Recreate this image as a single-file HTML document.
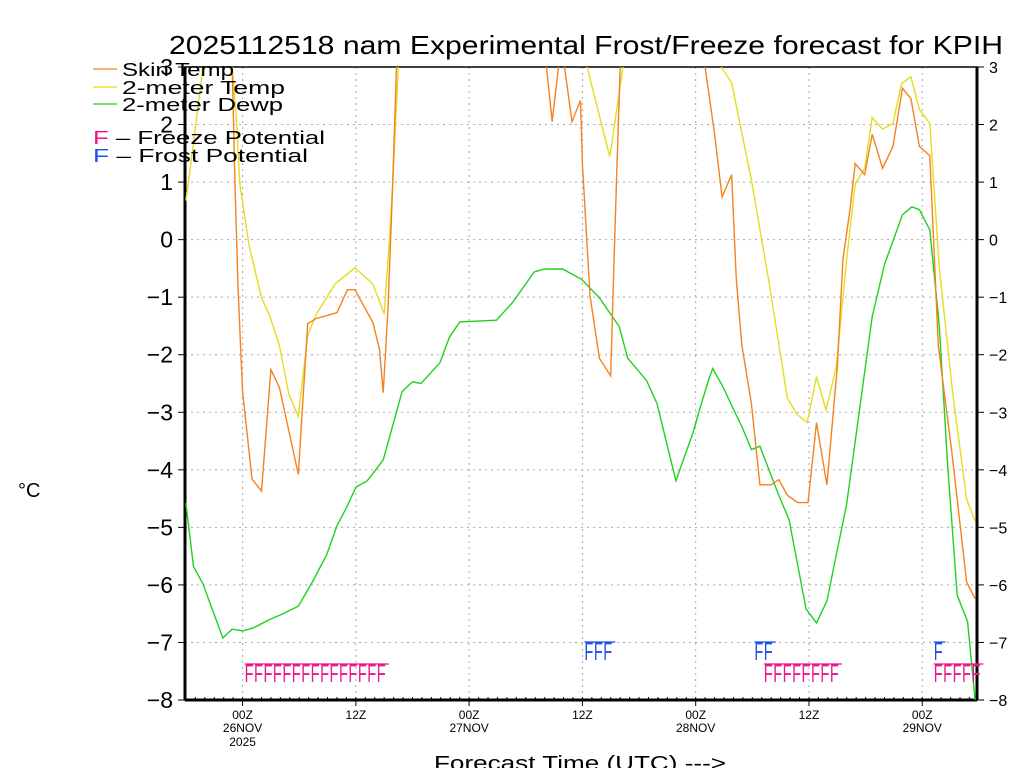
<!DOCTYPE html>
<html><head><meta charset="utf-8"><style>
html,body{margin:0;padding:0;background:#fff;}
svg{display:block;font-family:"Liberation Sans",sans-serif;}
</style></head><body>
<svg id="chart" width="1024" height="768" viewBox="0 0 1024 768" xmlns="http://www.w3.org/2000/svg">
<defs><clipPath id="plotclip"><rect x="185" y="67" width="792" height="633"/></clipPath></defs>
<text x="586" y="54" text-anchor="middle" font-size="26" fill="#000" textLength="834" lengthAdjust="spacingAndGlyphs">2025112518 nam Experimental Frost/Freeze forecast for KPIH</text>
<g id="grid"></g>
<g id="axes"></g>
<g id="series" clip-path="url(#plotclip)"></g>
<g id="markers"></g>
<g font-size="18">
 <line x1="93" y1="69" x2="117" y2="69" stroke="#f5821f" stroke-width="1.3"/>
 <text x="122" y="76" textLength="112" lengthAdjust="spacingAndGlyphs">Skin Temp</text>
 <line x1="93" y1="87" x2="117" y2="87" stroke="#e6dc1e" stroke-width="1.3"/>
 <text x="122" y="94" textLength="163" lengthAdjust="spacingAndGlyphs">2-meter Temp</text>
 <line x1="93" y1="104" x2="117" y2="104" stroke="#1ed21e" stroke-width="1.3"/>
 <text x="122" y="111" textLength="161" lengthAdjust="spacingAndGlyphs">2-meter Dewp</text>
 <text x="93" y="144" textLength="232" lengthAdjust="spacingAndGlyphs"><tspan fill="#f0148c">F</tspan> – Freeze Potential</text>
 <text x="93" y="162" textLength="215" lengthAdjust="spacingAndGlyphs"><tspan fill="#1e50f0">F</tspan> – Frost Potential</text>
</g>
<text x="18" y="497" font-size="20">°C</text>
<text x="580" y="770" text-anchor="middle" font-size="20" textLength="292" lengthAdjust="spacingAndGlyphs">Forecast Time (UTC) ---&gt;</text>
</svg>
<script>
const yTicks=[3,2,1,0,-1,-2,-3,-4,-5,-6,-7,-8];
const xTickHours=[0,12,24,36,48,60,72];
const xTickLabels=["00Z","12Z","00Z","12Z","00Z","12Z","00Z"];
const xTickDates=["26NOV","","27NOV","","28NOV","","29NOV"];
const xTickYears=["2025","","","","","",""];
const dewHours=[-6,-5.2,-4.2,-2.1,-1.1,0,1.1,3,3.9,5.9,7.4,8.9,10,11,12,13.2,14.9,16.9,18,18.9,20.9,21.9,23,26.9,28.6,30.9,32,33.9,35.9,37.8,39.9,40.8,42.8,43.9,45.9,47.7,48.4,49.4,49.8,50.8,53,53.9,54.8,56.7,57.9,59.7,60.8,61.9,64,66.7,68,69.9,70.9,71.7,72.8,73.8,74.7,75.7,76.8,77.6];
const dewValues=[-4.58,-5.68,-5.98,-6.92,-6.77,-6.8,-6.75,-6.59,-6.53,-6.37,-5.95,-5.48,-4.97,-4.66,-4.3,-4.19,-3.83,-2.64,-2.47,-2.5,-2.14,-1.7,-1.43,-1.4,-1.09,-0.56,-0.51,-0.51,-0.69,-1.01,-1.51,-2.06,-2.45,-2.85,-4.19,-3.36,-2.96,-2.42,-2.24,-2.53,-3.29,-3.65,-3.59,-4.4,-4.87,-6.42,-6.66,-6.28,-4.59,-1.34,-0.43,0.43,0.57,0.52,0.17,-1.48,-3.93,-6.18,-6.64,-8.0];
const skinHours=[-6,-1.5,-1.1,-0.8,-0.5,-0.2,0,1,2,3,3.9,5.9,6.9,7.8,10,11.1,11.9,13.8,14.5,14.9,15.4,15.9,16.3,18,31,32.2,32.8,33.6,34.1,34.9,35.8,36,36.8,37.8,39,39.2,39.6,40,42,48,49,50,50.8,51.8,52.3,52.9,53.9,54.8,56,56.8,57.7,58.8,59.9,60.8,61.9,63,63.6,64.3,64.9,65.9,66.7,67.8,68.9,69.9,70.8,71.7,72.8,73.7,75.2,76.7,77.6];
const skinValues=[4,4,3.0,0.97,-0.77,-1.91,-2.64,-4.16,-4.37,-2.26,-2.57,-4.08,-1.46,-1.37,-1.27,-0.87,-0.87,-1.44,-1.91,-2.66,-1.2,0.97,3.0,4,4,3,2.05,3.2,3,2.05,2.42,1.32,-0.97,-2.06,-2.37,-1.2,0.97,3.0,4,4,3.0,1.83,0.74,1.13,-0.69,-1.84,-2.85,-4.26,-4.26,-4.17,-4.44,-4.57,-4.57,-3.18,-4.26,-2.21,-0.33,0.47,1.32,1.13,1.83,1.24,1.62,2.63,2.45,1.62,1.46,-1.84,-3.79,-5.95,-6.24];
const tempHours=[-6,-5.3,-4.2,-3,-1.5,-1.1,-0.7,-0.3,0.7,2,2.9,3.9,4.9,5.9,6.9,7.8,9.8,11.9,13.8,15,15.6,15.9,16.5,18,35,36.5,38.9,40.3,42,49,50.7,51.8,53.9,55.8,57.7,58.7,59.8,60.8,61.8,62.9,64,64.9,65.9,66.7,67.8,68.9,69.8,70.8,71.7,72.8,73.8,75.2,76.7,77.6];
const tempValues=[0.68,1.55,3,4,4,3,2.19,0.97,-0.11,-1.01,-1.34,-1.84,-2.68,-3.07,-1.67,-1.3,-0.77,-0.49,-0.77,-1.29,0.1,0.97,3,4,4,3,1.44,3,4,4,3,2.73,1.04,-0.77,-2.75,-3.03,-3.18,-2.38,-2.96,-2.21,-0.33,0.97,1.24,2.12,1.92,2.02,2.71,2.83,2.26,2.02,-0.47,-2.64,-4.51,-4.89];
const freezeHours=[0,1,2,3,4,5,6,7,8,9,10,11,12,13,14,55,56,57,58,59,60,61,62,73,74,75,76,77];
const frostHours=[36,37,38,54,55,73];

const X0=185,X1=977,Y0=67,Y1=700,HMIN=-6.1,HMAX=77.8,VMAX=3,VMIN=-8;
const xs=h=>X0+(h-HMIN)/(HMAX-HMIN)*(X1-X0);
const ys=v=>Y0+(VMAX-v)/(VMAX-VMIN)*(Y1-Y0);
const NS="http://www.w3.org/2000/svg";
function mk(tag,attrs,parent,text){const e=document.createElementNS(NS,tag);for(const k in attrs)e.setAttribute(k,attrs[k]);if(text!==undefined)e.textContent=text;parent.appendChild(e);return e;}
const grid=document.getElementById('grid'),axes=document.getElementById('axes'),series=document.getElementById('series'),markers=document.getElementById('markers');
yTicks.forEach(v=>{
 const y=ys(v);
 if(v<VMAX&&v>VMIN){const g=mk('line',{x1:X0,x2:X1,y1:y,y2:y,stroke:'#aaa','stroke-dasharray':'2,4'},grid);
 
 }
 mk('line',{x1:X0-7,x2:X0,y1:y,y2:y,stroke:'#000'},axes);
 mk('line',{x1:X1,x2:X1+7,y1:y,y2:y,stroke:'#000'},axes);
 const l=mk('text',{x:X0-12,y:y+8,'text-anchor':'end','font-size':'23'},axes,v<0?'−'+Math.abs(v):String(v));
 
 
 const r=mk('text',{x:X1+12,y:y+6,'text-anchor':'start','font-size':'16'},axes,v<0?'−'+Math.abs(v):String(v));
 
 
});
for(let h=-6;h<=77;h++){mk('line',{x1:xs(h),x2:xs(h),y1:Y1,y2:Y1-3,stroke:'#000'},axes);}
xTickHours.forEach((h,i)=>{
 const x=xs(h);
 const g=mk('line',{x1:x,x2:x,y1:Y0,y2:Y1,stroke:'#aaa','stroke-dasharray':'2,4'},grid);
 
 
 mk('line',{x1:x,x2:x,y1:Y1,y2:Y1+6,stroke:'#000'},axes);
 const t=mk('text',{x:x,y:719,'text-anchor':'middle','font-size':'12'},axes,xTickLabels[i]);
 
 
 if(xTickDates[i]){const d=mk('text',{x:x,y:732,'text-anchor':'middle','font-size':'12'},axes,xTickDates[i]);
 
 }
 if(xTickYears[i]){const d=mk('text',{x:x,y:746,'text-anchor':'middle','font-size':'12'},axes,xTickYears[i]);
 
 }
});
mk('rect',{x:X0,y:Y0,width:X1-X0,height:Y1-Y0,fill:'none',stroke:'#000','stroke-width':'1.5'},axes);
mk('line',{x1:X0,x2:X0,y1:Y0,y2:Y1,stroke:'#000','stroke-width':'3'},axes);
mk('line',{x1:X1,x2:X1,y1:Y0,y2:Y1,stroke:'#000','stroke-width':'3'},axes);
mk('line',{x1:X0,x2:X1,y1:Y1,y2:Y1,stroke:'#000','stroke-width':'3'},axes);
function line(hs,vs,color,name){
 const n=Math.min(hs.length,vs.length);
 const d=[];for(let i=0;i<n;i++)d.push((i?'L':'M')+xs(hs[i]).toFixed(1)+','+ys(vs[i]).toFixed(1));
 const p=mk('path',{d:d.join(''),fill:'none',stroke:color,'stroke-width':'1.4'},series);
 
 
}
line(dewHours,dewValues,'#1ed21e','dewpoint-line');
line(tempHours,tempValues,'#e6dc1e','2m-temp-line');
line(skinHours,skinValues,'#f5821f','skin-temp-line');
function fRow(hs,color,yb,name){
 hs.forEach(h=>{
  const x=xs(h)+2;
  const t=mk('text',{x:x,y:yb,'font-size':'25',fill:color,textLength:'9',lengthAdjust:'spacingAndGlyphs'},markers,'F');
  
  
 });
 let s=hs[0];
 for(let i=1;i<=hs.length;i++){
  if(i===hs.length||hs[i]-hs[i-1]>1.5){
   mk('line',{x1:xs(s)+2,x2:xs(hs[i-1])+14,y1:yb-18,y2:yb-18,stroke:color,'stroke-width':'1.2'},markers);
   if(i<hs.length)s=hs[i];
  }
 }
}
fRow(freezeHours,'#f0148c',682,'freeze-marker');
fRow(frostHours,'#1e50f0',660,'frost-marker');
</script>
</body></html>
